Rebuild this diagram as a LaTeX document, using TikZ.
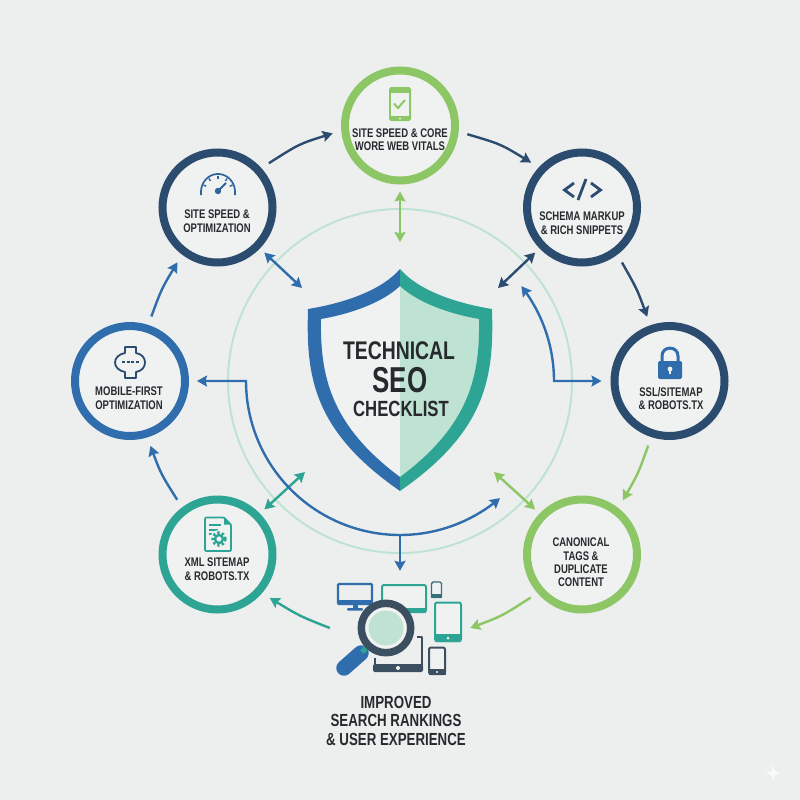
\documentclass[tikz,border=0pt]{standalone}
\usepackage{fontspec}
\setmainfont{Liberation Sans}[FakeStretch=0.76]
\usetikzlibrary{arrows.meta}
\definecolor{paper}{HTML}{EDEFEF}
\definecolor{inner}{HTML}{F0F2F2}
\definecolor{leaf}{HTML}{8CC665}
\definecolor{navy}{HTML}{2B4B6F}
\definecolor{azure}{HTML}{2F6DAD}
\definecolor{sea}{HTML}{2EA594}
\definecolor{mint}{HTML}{BFE3D2}
\definecolor{ink}{HTML}{262A2D}
\definecolor{slate}{HTML}{3B4F60}
\tikzset{
  x=1pt,y=-1pt,
  tip/.style={-{Stealth[length=10pt,width=11pt,inset=1.5pt]}},
  twotip/.style={{Stealth[length=10pt,width=11pt,inset=1.5pt]}-{Stealth[length=10pt,width=11pt,inset=1.5pt]}},
  link/.style={line width=2.4pt,draw=#1},
  gap/.style={shorten >=9pt,shorten <=9pt},
  ringnode/.style={circle,draw=#1,fill=inner,line width=8pt,minimum size=110pt,inner sep=0pt},
  lbl/.style={font=\bfseries\fontsize{12.5}{13.4}\selectfont,text=ink,align=center,inner sep=0pt},
  devline/.style={line width=2pt,rounded corners=2pt,draw=#1,fill=inner},
}
\begin{document}
\begin{tikzpicture}
\useasboundingbox (0,0) rectangle (800,800);
\fill[paper] (0,0) rectangle (800,800);
% sparkle
\fill[white!60!paper] (773,764) .. controls (774,771) and (775,772) .. (782,773) .. controls (775,774) and (774,775) .. (773,782) .. controls (772,775) and (771,774) .. (764,773) .. controls (771,772) and (772,771) .. (773,764) -- cycle;
% big ring
\draw[mint,line width=2pt] (400,381) circle[radius=172];
% nodes
\node[ringnode=leaf]  (top)    at (400,125.5) {};
\node[ringnode=navy]  (speed)  at (217.5,207.5) {};
\node[ringnode=navy]  (schema) at (582,207.5) {};
\node[ringnode=azure] (mobile) at (130,381) {};
\node[ringnode=navy]  (ssl)    at (669.5,381) {};
\node[ringnode=sea]   (xml)    at (217.5,554.5) {};
\node[ringnode=leaf]  (canon)  at (582,554.5) {};
\node[minimum width=140pt,minimum height=100pt,inner sep=0pt] (devices) at (400,628) {};
% free ends
\coordinate (hubN) at (400,242);
\coordinate (hubNW) at (302,288);
\coordinate (hubNE) at (498,288);
\coordinate (hubSW) at (305,472);
\coordinate (hubSE) at (494,472);
\coordinate (hubS) at (400,535);
% outer cycle
\draw[link=navy,tip,gap] (speed.42) .. controls (299,144) .. (top.185);
\draw[link=navy,tip,gap] (top.-6) .. controls (500.5,144) .. (schema.137);
\draw[link=navy,tip,gap] (schema.-53) .. controls (637,289) .. (ssl.109);
\draw[link=leaf,tip,gap] (ssl.252) .. controls (638,474) .. (canon.52.5);
\draw[link=leaf,tip,shorten <=8pt] (canon.221) .. controls (502,616) .. (devices.east);
\draw[link=sea,tip,shorten >=9pt] (devices.west) .. controls (299.5,616) .. (xml.-41);
\draw[link=azure,tip,gap] (xml.127) .. controls (161,474) .. (mobile.-73.5);
\draw[link=azure,tip,gap] (mobile.72.4) .. controls (161.5,289) .. (speed.233);
% spokes
\draw[link=leaf,twotip,shorten <=7pt] (top.south) -- (hubN);
\draw[link=azure,twotip,shorten <=6pt] (speed.-44) -- (hubNW);
\draw[link=navy,twotip,shorten <=6pt] (schema.224) -- (hubNE);
\draw[link=sea,twotip,shorten <=6pt] (xml.44) -- (hubSW);
\draw[link=leaf,twotip,shorten <=6pt] (canon.136) -- (hubSE);
% inner arcs
\draw[link=azure,twotip,shorten <=8pt] (mobile.east) -- (246,381) -- plot[domain=180:49.5,samples=70] ({400+154*cos(\x)},{381+154*sin(\x)});
\draw[link=azure,twotip,shorten <=9pt] (ssl.west) -- (554,381) -- plot[domain=0:-38,samples=30] ({400+154*cos(\x)},{381+154*sin(\x)});
\draw[link=azure,tip,shorten >=7pt] (hubS) -- (devices.north);
% shield
\fill[inner] (400,286) .. controls (382,303) and (350,314) .. (321,319) .. controls (320,375) and (330,425) .. (400,477) -- cycle;
\fill[mint] (400,286) .. controls (418,303) and (450,314) .. (479,319) .. controls (480,375) and (470,425) .. (400,477) -- cycle;
\fill[azure] (400,269) .. controls (382,290) and (345,303) .. (308,309) .. controls (306,375) and (312,430) .. (400,491) -- (400,477) .. controls (330,425) and (320,375) .. (321,319) .. controls (350,314) and (382,303) .. (400,286) -- cycle;
\fill[sea] (400,269) .. controls (418,290) and (455,303) .. (492,309) .. controls (494,375) and (488,430) .. (400,491) -- (400,477) .. controls (470,425) and (480,375) .. (479,319) .. controls (450,314) and (418,303) .. (400,286) -- cycle;
\node[font=\bfseries\fontsize{25.5}{25.5}\selectfont,text=ink,inner sep=0pt] (t1) at (399,351) {TECHNICAL};
\node[font=\bfseries\fontsize{36}{36}\selectfont,text=ink,inner sep=0pt] (t2) at (400,380) {\addfontfeature{FakeStretch=0.72}SEO};
\node[font=\bfseries\fontsize{22}{22}\selectfont,text=ink,inner sep=0pt] (t3) at (401,409) {CHECKLIST};
% labels
\node[lbl] (l1) at (400,139.5) {SITE SPEED \& CORE\\WORE WEB VITALS};
\node[lbl] (l2) at (217,221) {SITE SPEED \&\\OPTIMIZATION};
\node[lbl] (l3) at (582,223) {SCHEMA MARKUP\\\& RICH SNIPPETS};
\node[lbl] (l4) at (129,398) {MOBILE-FIRST\\OPTIMIZATION};
\node[lbl] (l5) at (671,398.5) {SSL/SITEMAP\\\& ROBOTS.TX};
\node[lbl] (l6) at (217,569) {XML SITEMAP\\\& ROBOTS.TX};
\node[lbl] (l7) at (581,562.5) {CANONICAL\\TAGS \&\\DUPLICATE\\CONTENT};
\node[font=\bfseries\fontsize{17.5}{18.5}\selectfont,text=ink,align=center,inner sep=0pt] (l8) at (396,720.5) {IMPROVED\\SEARCH RANKINGS\\\& USER EXPERIENCE};
% phone icon
\fill[leaf,rounded corners=2.5pt] (389,87) rectangle (411,121);
\fill[inner] (391,93) rectangle (409,116);
\draw[leaf,line width=1.2pt] (396,90) -- (404,90);
\fill[inner] (400,118.5) circle[radius=1.2];
\draw[leaf,line width=2pt] (394,103.5) -- (398,108) -- (405,100);
% gauge icon
\draw[azure!70!navy,line width=1.7pt] (201,195) -- (201,193) -- plot[domain=180:360,samples=40] ({218+17*cos(\x)},{192+18*sin(\x)}) -- (235,195);
\foreach \a in {205,235,270,305,335}
  \draw[azure!70!navy,line width=1.4pt] ({218+13*cos(\a)},{192+13.5*sin(\a)}) -- ({218+16*cos(\a)},{192+16.5*sin(\a)});
\draw[azure!70!navy,line width=2pt] (218,191) -- (226,183);
\fill[azure!70!navy] (218,191) circle[radius=3.2];
% mobile icon
\draw[navy,line width=1.8pt,line join=round] (125,347) -- (136,347) -- (136,353) .. controls (142,354) and (145,358) .. (145,362.5) .. controls (145,367) and (142,371) .. (136,372) -- (136,378) -- (125,378) -- (125,372) .. controls (119,371) and (115,367) .. (115,362.5) .. controls (115,358) and (119,354) .. (125,353) -- cycle;
\draw[navy,line width=1.4pt,dash pattern=on 3pt off 1.5pt] (122,362) -- (139,362);
% code icon
\draw[navy,line width=2.8pt,line join=miter] (574,183) -- (564.5,190) -- (574,197);
\draw[navy,line width=2.8pt] (586,179) -- (578,200);
\draw[navy,line width=2.8pt,line join=miter] (591,183) -- (600.5,190) -- (591,197);
% lock icon
\draw[azure,line width=3pt] (662,362) -- (662,356) .. controls (662,345.5) and (678,345.5) .. (678,356) -- (678,362);
\fill[azure,rounded corners=2pt] (658,361) rectangle (682,379);
\fill[inner] (670,369) circle[radius=2.4];
\fill[inner] (669,369) rectangle (671,374);
% document icon
\draw[sea,line width=1.7pt,line join=round,rounded corners=1pt] (205,517.5) -- (224,517.5) -- (231,524.5) -- (231,551) -- (205,551) -- cycle;
\fill[sea] (224,517.5) -- (231,524.5) -- (224,524.5) -- cycle;
\draw[sea,line width=1.4pt] (208.5,525) -- (221,525) (208.5,530) -- (218,530) (208.5,534) -- (215,534);
\fill[inner] (219,539) circle[radius=9];
\draw[sea,line width=2.4pt] (219,539) circle[radius=4];
\draw[sea,line width=2.5pt,dash pattern=on 2.4pt off 2.3pt] (219,539) circle[radius=6.4];
% devices
\draw[azure,line width=2.2pt,rounded corners=1pt] (338,584) rectangle (372,604);
\fill[azure] (338,600) rectangle (372,605);
\fill[azure] (353,605) rectangle (358,609);
\fill[azure,rounded corners=1pt] (347,608) rectangle (363,610.5);
\draw[devline=sea] (382,585) rectangle (426,612);
\fill[sea] (382,608) rectangle (426,613);
\draw[sea!40!slate,line width=1.4pt,rounded corners=1.5pt,fill=inner] (431.5,582) rectangle (441.5,597.5);
\fill[sea!40!slate] (431,594) rectangle (442,598);
\draw[devline=sea] (435,602.5) rectangle (461,641);
\fill[sea,rounded corners=1pt] (435,634) rectangle (461,642);
\fill[inner] (448,638) circle[radius=1.5];
\fill[inner] (444,603.5) rectangle (452,605);
\draw[slate,line width=2.4pt,line join=round] (417,637) -- (422,637) -- (422,668) -- (375,668) -- (375,658);
\fill[slate,rounded corners=2pt] (373,664) rectangle (423,672);
\fill[inner] (398,668) circle[radius=2];
\draw[devline=slate] (429,647.5) rectangle (445,674);
\fill[slate] (428.5,669) rectangle (445.5,674.5);
\fill[inner] (437,672) circle[radius=1.2];
% magnifier
\draw[line width=15.5pt,azure,line cap=round] (344,668) -- (361,653);
\draw[line width=5pt,sea] (362,652) -- (369,645);
\fill[inner] (386,628) circle[radius=22];
\draw[slate,line width=7.5pt] (386,628) circle[radius=24.7];
\fill[mint] (386,628) circle[radius=17.5];
\end{tikzpicture}
\end{document}
